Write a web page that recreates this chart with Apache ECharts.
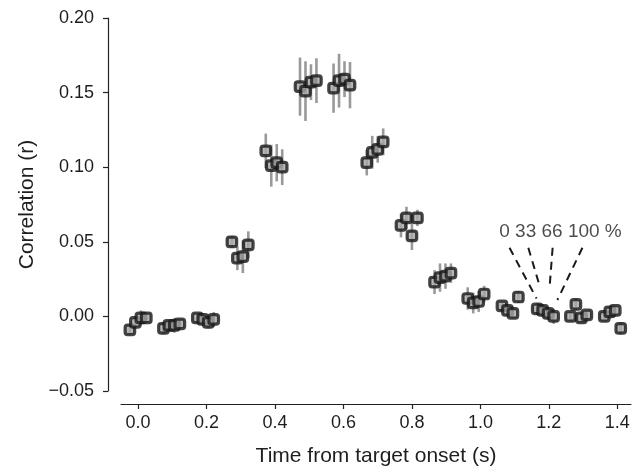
<!DOCTYPE html>
<html>
<head>
<meta charset="utf-8">
<script src="https://cdn.jsdelivr.net/npm/echarts@6/dist/echarts.min.js"></script>
<style>
html,body{margin:0;padding:0;background:#fff;}
#c{width:638px;height:469px;}
</style>
</head>
<body>
<div id="c"></div>
<script>
const timeBins = [0.000,0.098,0.197,0.298,0.397,0.497,0.595,0.692,0.792,0.890,0.987,1.087,1.190,1.287,1.386];
const conditions = ['0','33','66','100'];
const condOffsets = [-0.024,-0.008,0.008,0.024];

// Correlation values per condition
const r0   = [-0.009,-0.008,-0.001,0.050,0.111,0.154,0.153,0.103,0.061,0.023,0.012,0.007,0.005,0.000,0.000];
const r33  = [-0.004,-0.006,-0.002,0.039,0.101,0.151,0.158,0.110,0.066,0.026,0.009,0.004,0.004,0.008,0.003];
const r66  = [-0.001,-0.006,-0.004,0.040,0.103,0.157,0.159,0.112,0.054,0.027,0.010,0.002,0.002,-0.001,0.004];
const r100 = [-0.001,-0.005,-0.002,0.048,0.100,0.158,0.155,0.117,0.066,0.029,0.015,0.013,0.000,0.001,-0.008];

// Error bar half-widths per condition
const e0   = [0.002,0.004,0.002,0.004,0.0115,0.0195,0.0165,0.0085,0.008,0.008,0.0075,0.003,0.004,0.003,0.002];
const e33  = [0.003,0.003,0.002,0.008,0.014,0.020,0.018,0.011,0.0075,0.0095,0.007,0.003,0.004,0.004,0.002];
const e66  = [0.005,0.005,0.004,0.011,0.0125,0.012,0.012,0.009,0.0095,0.0085,0.007,0.003,0.004,0.003,0.002];
const e100 = [0.002,0.003,0.005,0.009,0.012,0.015,0.0155,0.009,0.0055,0.0065,0.0055,0.004,0.005,0.003,0.004];

// Axis ticks
const xTicks = [0.0,0.2,0.4,0.6,0.8,1.0,1.2,1.4];
const yTicks = [-0.05,0.00,0.05,0.10,0.15,0.20];

// Annotation: label and dashed guide lines [[t1,r1],[t2,r2]]
const annotText = '0 33 66 100 %';
const annotPos = [1.234, 0.057];
const guideLines = [
  [[1.085,0.046],[1.164,0.012]],
  [[1.140,0.046],[1.175,0.019]],
  [[1.211,0.046],[1.202,0.019]],
  [[1.298,0.046],[1.225,0.011]]
];

const vals = [r0,r33,r66,r100];
const errs = [e0,e33,e66,e100];

const pts = [];
const bars = [];
for (let c = 0; c < 4; c++) {
  for (let i = 0; i < timeBins.length; i++) {
    const t = timeBins[i] + condOffsets[c];
    pts.push([t, vals[c][i]]);
    bars.push([t, vals[c][i] - errs[c][i], vals[c][i] + errs[c][i]]);
  }
}

const FONT = 'Liberation Sans, Arial, Helvetica, sans-serif';
const TXT = '#1e1e1e';
const chart = echarts.init(document.getElementById('c'));
const series = [
  {
    type: 'custom',
    data: bars,
    z: 2,
    renderItem: function (params, api) {
      const x = api.value(0);
      const p1 = api.coord([x, api.value(1)]);
      const p2 = api.coord([x, api.value(2)]);
      return {type: 'line', shape: {x1: p1[0], y1: p1[1], x2: p2[0], y2: p2[1]},
              style: {stroke: '#999999', lineWidth: 2.6}};
    },
    silent: true
  },
  {
    type: 'scatter',
    data: pts,
    z: 3,
    symbol: 'roundRect',
    symbolSize: 9.5,
    itemStyle: {color: '#a8a8a8', borderColor: '#161616', borderWidth: 3.2},
    silent: true
  },
  {
    type: 'scatter',
    data: [annotPos],
    symbolSize: 0,
    label: {show: true, position: 'inside', formatter: annotText, fontFamily: FONT, fontSize: 19, color: TXT},
    silent: true
  }
];
guideLines.forEach(function (seg) {
  series.push({
    type: 'line', data: seg, showSymbol: false, silent: true, z: 1,
    lineStyle: {color: '#1a1a1a', width: 2, type: [8, 6]}
  });
});

chart.setOption({
  animation: false,
  grid: {left: 121, right: 7, top: 18, bottom: 78, containLabel: false, outerBoundsMode: 'none'},
  xAxis: {
    type: 'value', min: -0.05, max: 1.44,
    offset: 13,
    name: 'Time from target onset (s)', nameLocation: 'middle', nameGap: 42,
    nameTextStyle: {fontFamily: FONT, fontSize: 21, color: TXT},
    axisLine: {onZero: false, lineStyle: {color: '#222', width: 1.2}},
    axisTick: {length: 5, customValues: xTicks, lineStyle: {color: '#222', width: 1.2}},
    axisLabel: {customValues: xTicks, fontFamily: FONT, fontSize: 18, color: TXT, margin: 10,
                formatter: function (v) { return v.toFixed(1); }},
    splitLine: {show: false}
  },
  yAxis: {
    type: 'value', min: -0.05, max: 0.20, interval: 0.05,
    offset: 13,
    name: 'Correlation (r)', nameLocation: 'middle', nameGap: 69, nameRotate: 90,
    nameTextStyle: {fontFamily: FONT, fontSize: 21, color: TXT},
    axisLine: {show: true, onZero: false, lineStyle: {color: '#222', width: 1.2}},
    axisTick: {show: true, length: 5, customValues: yTicks, lineStyle: {color: '#222', width: 1.2}},
    axisLabel: {customValues: yTicks, fontFamily: FONT, fontSize: 18, color: TXT, margin: 14,
                formatter: function (v) { return (v < 0 ? '\u2212' : '') + Math.abs(v).toFixed(2); }},
    splitLine: {show: false}
  },
  series: series
});
</script>
</body>
</html>
